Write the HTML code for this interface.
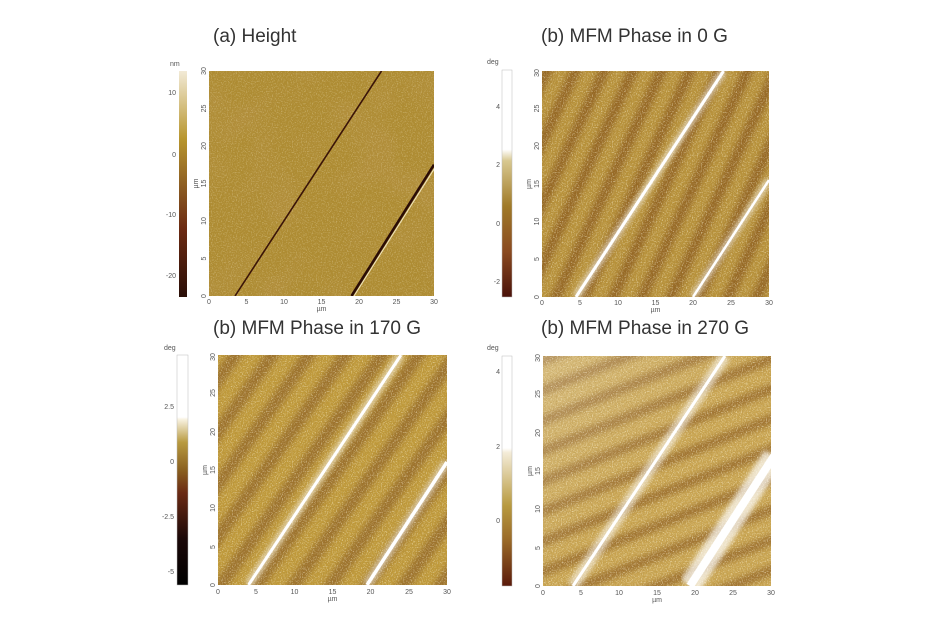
<!DOCTYPE html>
<html><head><meta charset="utf-8"><style>
html,body{margin:0;padding:0;background:#fff;}
svg{display:block;}
.t{font-family:"Liberation Sans",sans-serif;font-size:19px;fill:#333;}
.k{font-family:"Liberation Sans",sans-serif;font-size:7px;fill:#555;}
</style></head><body>
<svg width="945" height="624" viewBox="0 0 945 624" xmlns="http://www.w3.org/2000/svg">
<defs>
<filter id="noiseL" x="0" y="0" width="100%" height="100%">
<feTurbulence type="fractalNoise" baseFrequency="0.8" numOctaves="2" seed="3"/>
<feColorMatrix type="matrix" values="0 0 0 0 1  0 0 0 0 0.93  0 0 0 0 0.7  5 0 0 0 -2.6"/>
</filter>
<filter id="noiseD" x="0" y="0" width="100%" height="100%">
<feTurbulence type="fractalNoise" baseFrequency="0.8" numOctaves="2" seed="11"/>
<feColorMatrix type="matrix" values="0 0 0 0 0.4  0 0 0 0 0.25  0 0 0 0 0.05  5 0 0 0 -2.6"/>
</filter>
<filter id="mottle" x="0" y="0" width="100%" height="100%">
<feTurbulence type="fractalNoise" baseFrequency="0.02" numOctaves="2" seed="7"/>
<feColorMatrix type="matrix" values="0 0 0 0 0.45  0 0 0 0 0.28  0 0 0 0 0.05  4 0 0 0 -1.8"/>
</filter>
<filter id="blur"><feGaussianBlur stdDeviation="2.5"/></filter>
<filter id="soft"><feGaussianBlur stdDeviation="3"/></filter>
<pattern id="pB" width="26" height="26" patternUnits="userSpaceOnUse" patternTransform="rotate(25)">
<rect width="26" height="26" fill="#b8923a"/><rect x="0" width="11" height="26" fill="#946626"/></pattern>
<pattern id="pC" width="30" height="30" patternUnits="userSpaceOnUse" patternTransform="rotate(35)">
<rect width="30" height="30" fill="#c09a3a"/><rect x="0" width="13" height="30" fill="#9c722e"/></pattern>
<pattern id="pD" width="28" height="28" patternUnits="userSpaceOnUse" patternTransform="rotate(68)">
<rect width="28" height="28" fill="#caa652"/><rect x="0" width="11" height="28" fill="#a07432"/></pattern>
<linearGradient id="gA" x1="0" y1="1" x2="0" y2="0">
<stop offset="0" stop-color="#2a0f08"/><stop offset="0.3" stop-color="#6b2a12"/><stop offset="0.48" stop-color="#8a5a22"/><stop offset="0.7" stop-color="#b8962e"/><stop offset="1" stop-color="#f2ead6"/></linearGradient>
<linearGradient id="gB" x1="0" y1="1" x2="0" y2="0">
<stop offset="0" stop-color="#4a120a"/><stop offset="0.2" stop-color="#8a4a20"/><stop offset="0.4" stop-color="#a07a28"/><stop offset="0.6" stop-color="#d8c890"/><stop offset="0.65" stop-color="#fff"/><stop offset="1" stop-color="#fff"/></linearGradient>
<linearGradient id="gC" x1="0" y1="1" x2="0" y2="0">
<stop offset="0" stop-color="#000"/><stop offset="0.2" stop-color="#1a0808"/><stop offset="0.4" stop-color="#6a2a14"/><stop offset="0.5" stop-color="#8a6020"/><stop offset="0.62" stop-color="#b89a40"/><stop offset="0.72" stop-color="#f8f2e0"/><stop offset="0.73" stop-color="#fff"/><stop offset="1" stop-color="#fff"/></linearGradient>
<linearGradient id="gD" x1="0" y1="1" x2="0" y2="0">
<stop offset="0" stop-color="#5a1a0a"/><stop offset="0.2" stop-color="#9a6a28"/><stop offset="0.35" stop-color="#b89a40"/><stop offset="0.58" stop-color="#f4ecd8"/><stop offset="0.6" stop-color="#fff"/><stop offset="1" stop-color="#fff"/></linearGradient>
<linearGradient id="lightTL" x1="0" y1="0" x2="1" y2="1">
<stop offset="0" stop-color="#fff" stop-opacity="0.25"/><stop offset="0.5" stop-color="#fff" stop-opacity="0"/></linearGradient>
<clipPath id="cA"><rect x="209" y="71" width="225" height="225"/></clipPath>
<clipPath id="cB"><rect x="542" y="71" width="227" height="226"/></clipPath>
<clipPath id="cC"><rect x="218" y="355" width="229" height="230"/></clipPath>
<clipPath id="cD"><rect x="543" y="356" width="228" height="230"/></clipPath>
</defs>

<text class="t" x="213" y="42">(a) Height</text>
<text class="t" x="541" y="42">(b) MFM Phase in 0 G</text>
<text class="t" x="213" y="334">(b) MFM Phase in 170 G</text>
<text class="t" x="541" y="334">(b) MFM Phase in 270 G</text>

<!-- Panel A -->
<g clip-path="url(#cA)">
<rect x="209" y="71" width="225" height="225" fill="#ae8c33"/>
<rect x="209" y="71" width="225" height="225" filter="url(#mottle)" opacity="0.6"/>
<rect x="209" y="71" width="225" height="225" filter="url(#noiseL)" opacity="0.25"/>
<line x1="235" y1="296" x2="381.5" y2="71" stroke="#3a1408" stroke-width="1.6"/>
<line x1="351.5" y1="296" x2="434" y2="164.7" stroke="#2a0c06" stroke-width="2.6"/>
<line x1="354" y1="296" x2="436" y2="166" stroke="#f0e6c0" stroke-width="1"/>
</g>
<rect x="179" y="71" width="8" height="226" fill="url(#gA)"/>
<text class="k" x="170" y="66">nm</text>
<g class="k" text-anchor="end"><text x="176" y="95">10</text><text x="176" y="157">0</text><text x="176" y="217">-10</text><text x="176" y="278">-20</text></g>

<!-- Panel B -->
<g clip-path="url(#cB)">
<rect x="530" y="60" width="250" height="250" fill="url(#pB)" filter="url(#soft)"/>
<rect x="542" y="71" width="227" height="226" filter="url(#noiseL)" opacity="0.45"/>
<rect x="542" y="71" width="227" height="226" filter="url(#noiseD)" opacity="0.35"/>
<line x1="576" y1="297" x2="723.6" y2="71" stroke="#fff" stroke-width="8" opacity="0.55" filter="url(#blur)"/>
<line x1="576" y1="297" x2="723.6" y2="71" stroke="#fff" stroke-width="3"/>
<line x1="693" y1="297" x2="769" y2="180" stroke="#fff" stroke-width="8" opacity="0.5" filter="url(#blur)"/>
<line x1="693" y1="297" x2="769" y2="180" stroke="#fff" stroke-width="2.5"/>
</g>
<rect x="502" y="70" width="10" height="227" fill="url(#gB)" stroke="#bbb" stroke-width="0.5"/>
<text class="k" x="487" y="64">deg</text>
<g class="k" text-anchor="end"><text x="500" y="109">4</text><text x="500" y="167">2</text><text x="500" y="226">0</text><text x="500" y="284">-2</text></g>

<!-- Panel C -->
<g clip-path="url(#cC)">
<rect x="205" y="345" width="255" height="255" fill="url(#pC)" filter="url(#soft)"/>
<rect x="218" y="355" width="229" height="230" filter="url(#noiseL)" opacity="0.45"/>
<rect x="218" y="355" width="229" height="230" filter="url(#noiseD)" opacity="0.35"/>
<line x1="248.5" y1="585" x2="401" y2="355" stroke="#fff" stroke-width="9" opacity="0.5" filter="url(#blur)"/>
<line x1="248.5" y1="585" x2="401" y2="355" stroke="#fff" stroke-width="3"/>
<line x1="367" y1="585" x2="447" y2="462" stroke="#fff" stroke-width="9" opacity="0.5" filter="url(#blur)"/>
<line x1="367" y1="585" x2="447" y2="462" stroke="#fff" stroke-width="3.5"/>
</g>
<rect x="177" y="355" width="11" height="230" fill="url(#gC)" stroke="#bbb" stroke-width="0.5"/>
<text class="k" x="164" y="350">deg</text>
<g class="k" text-anchor="end"><text x="174" y="409">2.5</text><text x="174" y="464">0</text><text x="174" y="519">-2.5</text><text x="174" y="574">-5</text></g>

<!-- Panel D -->
<g clip-path="url(#cD)">
<rect x="530" y="345" width="255" height="255" fill="url(#pD)" filter="url(#soft)"/>
<rect x="543" y="356" width="228" height="230" fill="url(#lightTL)"/>
<rect x="543" y="356" width="228" height="230" filter="url(#noiseL)" opacity="0.5"/>
<rect x="543" y="356" width="228" height="230" filter="url(#noiseD)" opacity="0.35"/>
<line x1="573" y1="586" x2="725" y2="356" stroke="#fff" stroke-width="12" opacity="0.55" filter="url(#blur)"/>
<line x1="573" y1="586" x2="725" y2="356" stroke="#fff" stroke-width="3"/>
<line x1="690" y1="586" x2="774" y2="456" stroke="#fff" stroke-width="22" opacity="0.7" filter="url(#blur)"/>
<line x1="690" y1="586" x2="774" y2="456" stroke="#fff" stroke-width="8"/>
</g>
<rect x="502" y="356" width="10" height="230" fill="url(#gD)" stroke="#bbb" stroke-width="0.5"/>
<text class="k" x="487" y="350">deg</text>
<g class="k" text-anchor="end"><text x="500" y="374">4</text><text x="500" y="449">2</text><text x="500" y="523">0</text></g>

<g class="k">
<g text-anchor="middle"><text x="209" y="304">0</text><text x="246.5" y="304">5</text><text x="284" y="304">10</text><text x="321.5" y="304">15</text><text x="359" y="304">20</text><text x="396.5" y="304">25</text><text x="434" y="304">30</text><text x="321.5" y="311">µm</text></g>
<g text-anchor="middle"><text transform="translate(206 296) rotate(-90)">0</text><text transform="translate(206 258.5) rotate(-90)">5</text><text transform="translate(206 221) rotate(-90)">10</text><text transform="translate(206 183.5) rotate(-90)">15</text><text transform="translate(206 146) rotate(-90)">20</text><text transform="translate(206 108.5) rotate(-90)">25</text><text transform="translate(206 71) rotate(-90)">30</text><text transform="translate(198 183.5) rotate(-90)">µm</text></g>
<g text-anchor="middle"><text x="542" y="305">0</text><text x="580" y="305">5</text><text x="618" y="305">10</text><text x="655.5" y="305">15</text><text x="693" y="305">20</text><text x="731" y="305">25</text><text x="769" y="305">30</text><text x="655.5" y="312">µm</text></g>
<g text-anchor="middle"><text transform="translate(539 297) rotate(-90)">0</text><text transform="translate(539 259) rotate(-90)">5</text><text transform="translate(539 221.5) rotate(-90)">10</text><text transform="translate(539 184) rotate(-90)">15</text><text transform="translate(539 146) rotate(-90)">20</text><text transform="translate(539 108.5) rotate(-90)">25</text><text transform="translate(539 73) rotate(-90)">30</text><text transform="translate(531 184) rotate(-90)">µm</text></g>
<g text-anchor="middle"><text x="218" y="594">0</text><text x="256" y="594">5</text><text x="294.5" y="594">10</text><text x="332.5" y="594">15</text><text x="370.5" y="594">20</text><text x="409" y="594">25</text><text x="447" y="594">30</text><text x="332.5" y="601">µm</text></g>
<g text-anchor="middle"><text transform="translate(215 585) rotate(-90)">0</text><text transform="translate(215 547) rotate(-90)">5</text><text transform="translate(215 508) rotate(-90)">10</text><text transform="translate(215 470) rotate(-90)">15</text><text transform="translate(215 432) rotate(-90)">20</text><text transform="translate(215 393) rotate(-90)">25</text><text transform="translate(215 357) rotate(-90)">30</text><text transform="translate(207 470) rotate(-90)">µm</text></g>
<g text-anchor="middle"><text x="543" y="595">0</text><text x="581" y="595">5</text><text x="619" y="595">10</text><text x="657" y="595">15</text><text x="695" y="595">20</text><text x="733" y="595">25</text><text x="771" y="595">30</text><text x="657" y="602">µm</text></g>
<g text-anchor="middle"><text transform="translate(540 586) rotate(-90)">0</text><text transform="translate(540 548) rotate(-90)">5</text><text transform="translate(540 509) rotate(-90)">10</text><text transform="translate(540 471) rotate(-90)">15</text><text transform="translate(540 433) rotate(-90)">20</text><text transform="translate(540 394) rotate(-90)">25</text><text transform="translate(540 358) rotate(-90)">30</text><text transform="translate(532 471) rotate(-90)">µm</text></g>
</g>
</svg>
</body></html>
